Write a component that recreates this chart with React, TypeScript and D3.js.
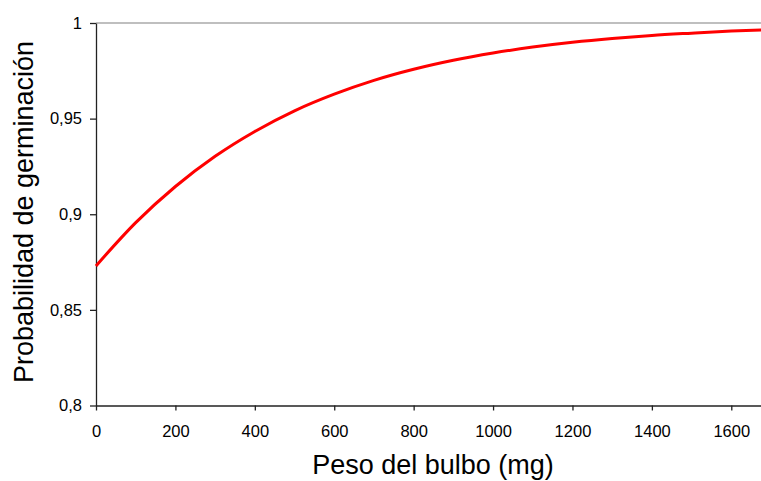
import React, { useEffect, useRef } from 'react';
import * as d3 from 'd3';

// valores
const pesos = [0, 100, 200, 300, 400, 500, 600, 700, 800, 900, 1000, 1100, 1200, 1300, 1400, 1500, 1600, 1700];
const probabilidad = [0.873, 0.8956, 0.9145, 0.9303, 0.9433, 0.9541, 0.9628, 0.97, 0.9758, 0.9805, 0.9843, 0.9874, 0.9899, 0.9919, 0.9935, 0.9947, 0.9958, 0.9966];
const xTicks = [0, 200, 400, 600, 800, 1000, 1200, 1400, 1600];
const yTicks = [0.8, 0.85, 0.9, 0.95, 1];

function App() {
    const chartRef = useRef<SVGSVGElement>(null);

    useEffect(() => {
        drawChart();
    }, []);

    const drawChart = () => {
        const svg = d3.select(chartRef.current);
        svg.selectAll('*').remove();

        const x = d3.scaleLinear().domain([0, 1700]).range([96, 771]);
        const y = d3.scaleLinear().domain([0.8, 1]).range([405.5, 23]);

        // borde superior
        svg.append('line')
            .attr('x1', 96).attr('x2', 761)
            .attr('y1', y(1)).attr('y2', y(1))
            .attr('stroke', '#808080')
            .attr('stroke-width', 1.2);

        const xAxis = svg.append('g')
            .attr('transform', `translate(0,${y(0.8)})`)
            .call(d3.axisBottom(x).tickValues(xTicks).tickSize(5).tickSizeOuter(0).tickPadding(15).tickFormat(d => String(d)));

        const yAxis = svg.append('g')
            .attr('transform', `translate(${x(0)},0)`)
            .call(d3.axisLeft(y).tickValues(yTicks).tickSize(6).tickSizeOuter(0).tickPadding(8)
                .tickFormat(d => String(d).replace('.', ',')));

        [xAxis, yAxis].forEach(g => {
            g.attr('font-size', 16).attr('font-family', '"Liberation Sans", Arial, sans-serif');
            g.selectAll('path, line').attr('stroke', '#222').attr('stroke-width', 1.3);
            g.selectAll('text')
                .attr('font-family', '"Liberation Sans", Arial, sans-serif')
                .attr('font-size', 16.5)
                .attr('fill', '#000');
        });

        const line = d3.line<number>()
            .x((d, i) => x(pesos[i]))
            .y(d => y(d))
            .curve(d3.curveMonotoneX);

        svg.append('path')
            .datum(probabilidad)
            .attr('d', line)
            .attr('fill', 'none')
            .attr('stroke', '#ff0000')
            .attr('stroke-width', 3);

        svg.append('text')
            .attr('x', 433).attr('y', 474)
            .attr('text-anchor', 'middle')
            .attr('font-family', '"Liberation Sans", Arial, sans-serif')
            .attr('font-size', 27)
            .text('Peso del bulbo (mg)');

        svg.append('text')
            .attr('transform', 'translate(33,212) rotate(-90)')
            .attr('text-anchor', 'middle')
            .attr('font-family', '"Liberation Sans", Arial, sans-serif')
            .attr('font-size', 27)
            .text('Probabilidad de germinación');
    };

    return (
        <svg ref={chartRef} width={761} height={481}
            style={{ position: 'absolute', left: 0, top: 0, background: '#fff' }}></svg>
    );
}

export default App;
